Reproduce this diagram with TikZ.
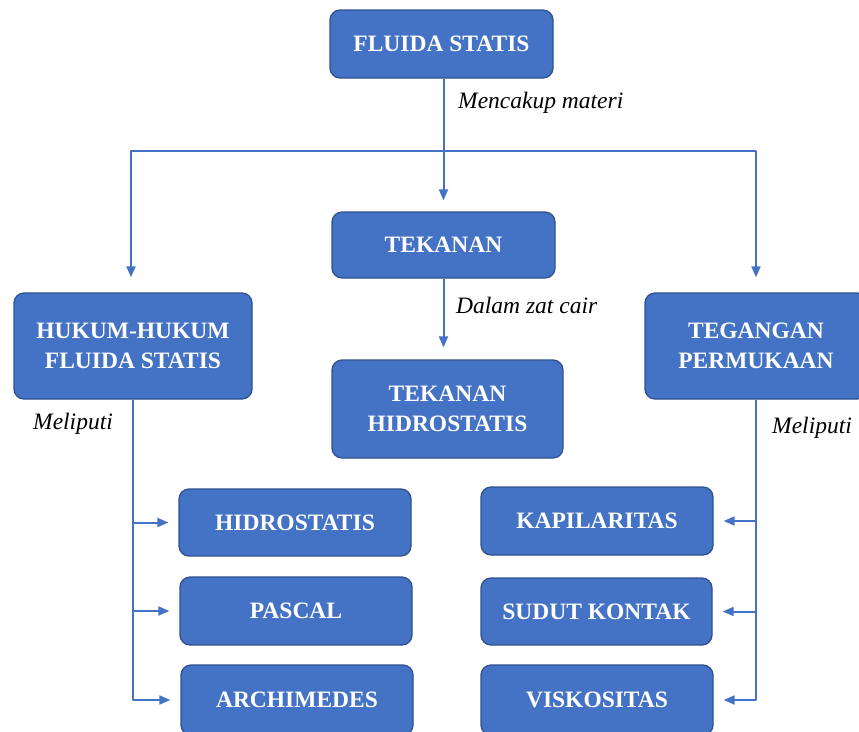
\documentclass[tikz,border=0pt]{standalone}
\usepackage{fontspec}
\setmainfont{Liberation Serif}
\usepackage{tikz}
\usetikzlibrary{arrows.meta,calc,positioning}
\usepackage{xcolor}
\definecolor{boxfill}{HTML}{4472C4}
\definecolor{boxedge}{HTML}{2F528F}
\definecolor{linkblue}{HTML}{4472C4}

\tikzset{
  konsep/.style={draw=boxedge,fill=boxfill,line width=1.3pt,rounded corners=10pt,
    text=white,align=center,inner sep=0pt,
    font=\bfseries\fontsize{23.5}{30}\selectfont},
  link/.style={linkblue,line width=2pt},
  ket/.style={anchor=west,inner sep=0pt,font=\itshape\fontsize{23.5}{28}\selectfont}
}

\begin{document}
\begin{tikzpicture}[>={Triangle[length=11pt,width=9pt]},line join=round,x=1pt,y=-1pt]
  \useasboundingbox (0,0) rectangle (859,731);
  % kotak konsep
  \node[konsep,minimum width=223pt,minimum height=68pt] (fluida) at (441.5,44){FLUIDA STATIS};
  \node[konsep,minimum width=223pt,minimum height=66pt] (tekanan) at (443.5,245){TEKANAN};
  \node[konsep,minimum width=231pt,minimum height=98pt] (hidro) at (447.5,409){TEKANAN\\ HIDROSTATIS};
  \node[konsep,minimum width=238pt,minimum height=106pt] (hukum) at (133,346){HUKUM-HUKUM\\ FLUIDA STATIS};
  \node[konsep,minimum width=222pt,minimum height=106pt] (tegangan) at (756,346){TEGANGAN\\ PERMUKAAN};
  \node[konsep,minimum width=232pt,minimum height=67pt] (hs) at (295,522.5){HIDROSTATIS};
  \node[konsep,minimum width=232pt,minimum height=68pt] (pascal) at (296,611){PASCAL};
  \node[konsep,minimum width=232pt,minimum height=70pt] (archi) at (297,700){ARCHIMEDES};
  \node[konsep,minimum width=232pt,minimum height=68pt] (kapi) at (597,521){KAPILARITAS};
  \node[konsep,minimum width=231pt,minimum height=67pt] (sudut) at (596.5,611.5){SUDUT KONTAK};
  \node[konsep,minimum width=232pt,minimum height=70pt] (visko) at (597,700){VISKOSITAS};
  % cabang dari fluida statis
  \coordinate (cabang) at ($(fluida.south)+(2,72)$);
  \draw[link,->,shorten >=11pt] (fluida.south -| cabang) -- (cabang) -- (cabang |- tekanan.north);
  \draw[link,->,shorten >=15pt] (cabang) -| ($(hukum.north)+(-2,0)$);
  \draw[link,->,shorten >=15pt] (cabang) -| (tegangan.north);
  \draw[link,->,shorten >=12pt] (tekanan.south) -- (tekanan.south |- hidro.north);
  % hukum-hukum
  \foreach \sub in {hs,pascal,archi}
    \draw[link,->,shorten >=10pt] (hukum.south) |- (\sub.west);
  % tegangan permukaan
  \foreach \sub in {kapi,sudut,visko}
    \draw[link,->,shorten >=10pt] (tegangan.south) |- (\sub.east);
  % keterangan
  \node[ket] (ket1) at (458,103){Mencakup materi};
  \node[ket] (ket2) at (456,305){Dalam zat cair};
  \node[ket] (ket3) at (33,424){Meliputi};
  \node[ket] (ket4) at (772,428){Meliputi};
\end{tikzpicture}
\end{document}
